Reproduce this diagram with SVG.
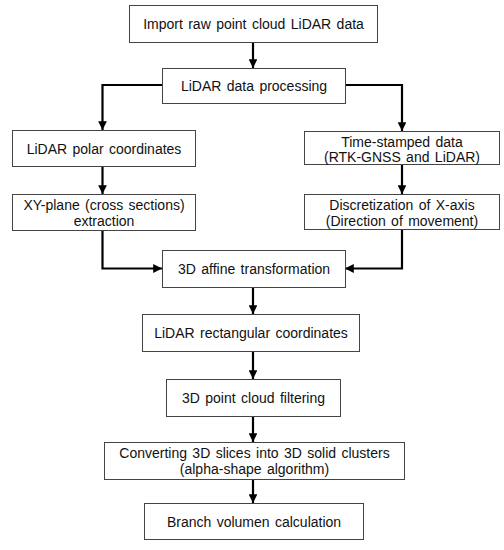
<svg xmlns="http://www.w3.org/2000/svg" width="504" height="550" viewBox="0 0 504 550">
<defs>
<marker id="ah" viewBox="0 0 10 10" refX="10" refY="5" markerWidth="4" markerHeight="4" markerUnits="strokeWidth" orient="auto">
<path d="M0,0 L10,5 L0,10 z" fill="#000"/>
</marker>
<style>
.box{fill:#fff;stroke:#444;stroke-width:1}
.t{font-family:"Liberation Sans",Arial,sans-serif;font-size:14px;fill:#111;text-anchor:middle;word-spacing:1.5px}
.c{fill:none;stroke:#000;stroke-width:2.2;marker-end:url(#ah)}
</style>
</defs>
<rect width="504" height="550" fill="#fff"/>
<g id="connectors">
<path class="c" d="M253,42 V68"/>
<path class="c" d="M162,85 H102.5 V130"/>
<path class="c" d="M345,85 H402 V131"/>
<path class="c" d="M102.5,167 V194"/>
<path class="c" d="M402,164 V194"/>
<path class="c" d="M102.5,231 V268.5 H162"/>
<path class="c" d="M402,230 V268.5 H345"/>
<path class="c" d="M253,288 V314"/>
<path class="c" d="M253,352 V379"/>
<path class="c" d="M253,416 V442"/>
<path class="c" d="M253,479 V503"/>
</g>
<g id="n1"><rect class="box" x="129.5" y="5.5" width="248" height="37"/><text class="t" x="253.5" y="29">Import raw point cloud LiDAR data</text></g>
<g id="n2"><rect class="box" x="162.5" y="68.5" width="183" height="35"/><text class="t" x="254" y="91">LiDAR data processing</text></g>
<g id="n3"><rect class="box" x="12.5" y="130.5" width="183" height="36"/><text class="t" x="104" y="153.5">LiDAR polar coordinates</text></g>
<g id="n4"><rect class="box" x="304.5" y="131.5" width="195" height="33"/><text class="t" x="402" y="146.5">Time-stamped data</text><text class="t" x="402" y="161.5">(RTK-GNSS and LiDAR)</text></g>
<g id="n5"><rect class="box" x="12.5" y="194.5" width="183" height="36"/><text class="t" x="104" y="209.5">XY-plane (cross sections)</text><text class="t" x="104" y="225.5">extraction</text></g>
<g id="n6"><rect class="box" x="304.5" y="194.5" width="195" height="35"/><text class="t" x="402" y="209.5">Discretization of X-axis</text><text class="t" x="402" y="225.5">(Direction of movement)</text></g>
<g id="n7"><rect class="box" x="162.5" y="250.5" width="183" height="37"/><text class="t" x="254" y="274">3D affine transformation</text></g>
<g id="n8"><rect class="box" x="142.5" y="314.5" width="217" height="37"/><text class="t" x="251" y="338">LiDAR rectangular coordinates</text></g>
<g id="n9"><rect class="box" x="166.5" y="379.5" width="174" height="37"/><text class="t" x="253.5" y="402.5">3D point cloud filtering</text></g>
<g id="n10"><rect class="box" x="104.5" y="442.5" width="300" height="37"/><text class="t" x="254.5" y="457.5">Converting 3D slices into 3D solid clusters</text><text class="t" x="254.5" y="473.5">(alpha-shape algorithm)</text></g>
<g id="n11"><rect class="box" x="144.5" y="503.5" width="219" height="36"/><text class="t" x="254" y="526.5">Branch volumen calculation</text></g>
</svg>
